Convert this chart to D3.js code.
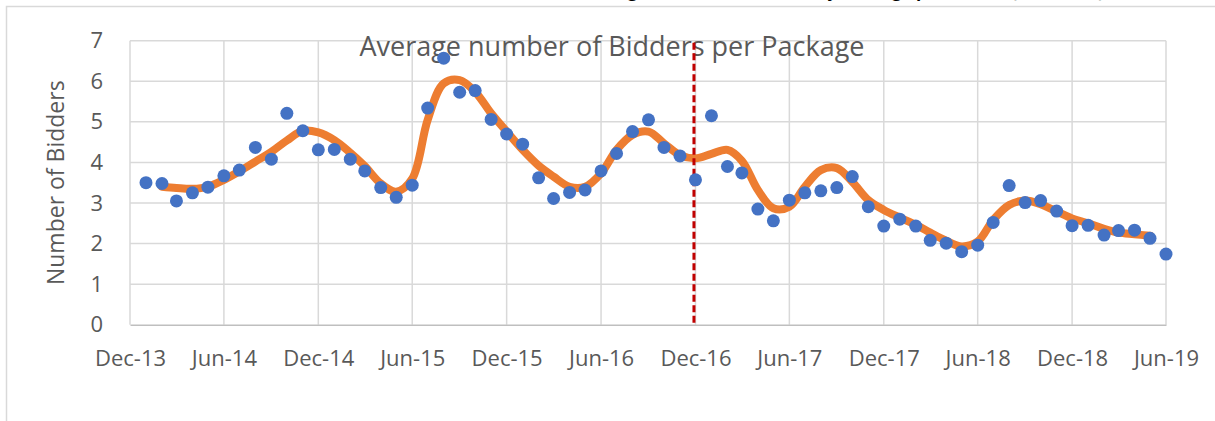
<!DOCTYPE html>
<html>
<head>
<meta charset="utf-8">
<script src="https://cdn.jsdelivr.net/npm/d3@7"></script>
<style>
  body { margin: 0; background: #fff; }
  svg { display: block; font-family: "Open Sans", sans-serif; }
</style>
</head>
<body>
<svg id="chart"></svg>
<script>
// monthly average bidders, Jan-14 .. Jun-19
const bidders = [
    3.50, 3.48, 3.05, 3.25, 3.39, 3.67, 3.81, 4.37, 4.08, 5.21, 4.78, 4.31,
    4.32, 4.08, 3.79, 3.38, 3.14, 3.44, 5.34, 6.57, 5.73, 5.77, 5.06, 4.70,
    4.45, 3.62, 3.11, 3.26, 3.32, 3.79, 4.22, 4.76, 5.05, 4.37, 4.16, 3.57,
    5.15, 3.90, 3.74, 2.85, 2.56, 3.07, 3.25, 3.30, 3.38, 3.65, 2.91, 2.43,
    2.60, 2.43, 2.08, 2.01, 1.80, 1.96, 2.52, 3.43, 3.01, 3.06, 2.80, 2.44,
    2.45, 2.21, 2.32, 2.33, 2.13, 1.74
];
// smoothed trend, Feb-14 .. May-19
const trend = [
    3.40, 3.37, 3.35, 3.40, 3.57, 3.78, 4.02, 4.26, 4.54, 4.78, 4.74,
    4.55, 4.24, 3.91, 3.48, 3.28, 3.60, 5.05, 5.95, 6.03, 5.74, 5.21, 4.76,
    4.31, 3.92, 3.65, 3.40, 3.40, 3.73, 4.31, 4.68, 4.76, 4.47, 4.18, 4.10,
    4.21, 4.31, 4.04, 3.32, 2.87, 2.91, 3.40, 3.81, 3.86, 3.52, 3.07, 2.83,
    2.64, 2.46, 2.27, 2.07, 1.93, 2.05, 2.58, 2.95, 3.06, 2.97, 2.79, 2.62,
    2.50, 2.36, 2.27, 2.23, 2.19
];
const xTickLabels = ["Dec-13", "Jun-14", "Dec-14", "Jun-15", "Dec-15", "Jun-16",
    "Dec-16", "Jun-17", "Dec-17", "Jun-18", "Dec-18", "Jun-19"];
const yTicks = [0, 1, 2, 3, 4, 5, 6, 7];
const markerLabel = "Dec-16";

const parseMonth = d3.timeParse("%b-%y");
const months = d3.timeMonth.range(parseMonth("Jan-14"), d3.timeMonth.offset(parseMonth("Jun-19"), 1));
const points = bidders.map((v, i) => ({date: months[i], value: v}));
const trendPts = trend.map((v, i) => ({date: months[i + 1], value: v}));

const width = 1215, height = 421;
const margin = {top: 40.7, right: 49, bottom: 96.3, left: 130};

const svg = d3.select("#chart")
    .attr("width", width)
    .attr("height", height)
    .attr("viewBox", [0, 0, width, height]);

const x = d3.scaleTime()
    .domain([parseMonth(xTickLabels[0]), parseMonth(xTickLabels[xTickLabels.length - 1])])
    .range([margin.left, width - margin.right]);

const y = d3.scaleLinear()
    .domain([0, 7])
    .range([height - margin.bottom, margin.top]);

// cut-off document caption above the chart frame (only descenders show)
svg.append("text")
    .attr("x", 880)
    .attr("y", -3)
    .attr("text-anchor", "middle")
    .attr("fill", "#000")
    .style("font-size", "17px")
    .style("font-weight", "bold")
    .text("Average Number of Bidders by Package per Month (Jan. 2014, Jun. 2019)");

// chart frame
svg.append("rect")
    .attr("x", 6.5)
    .attr("y", 6.5)
    .attr("width", width + 20)
    .attr("height", height + 20)
    .attr("fill", "none")
    .attr("stroke", "#d9d9d9")
    .attr("stroke-width", 1.5);

// gridlines
svg.append("g")
    .attr("stroke", "#d9d9d9")
    .attr("stroke-width", 1.5)
    .selectAll("line")
    .data(yTicks.slice(1))
    .join("line")
    .attr("x1", x.range()[0])
    .attr("x2", x.range()[1])
    .attr("y1", d => y(d))
    .attr("y2", d => y(d));

svg.append("g")
    .attr("stroke", "#d9d9d9")
    .attr("stroke-width", 1.5)
    .selectAll("line")
    .data(xTickLabels)
    .join("line")
    .attr("x1", d => x(parseMonth(d)))
    .attr("x2", d => x(parseMonth(d)))
    .attr("y1", y(7))
    .attr("y2", y(0));

// axes
const xAxis = g => g
    .attr("transform", `translate(0,${y(0)})`)
    .call(d3.axisBottom(x)
        .tickValues(xTickLabels.map(parseMonth))
        .tickFormat(d3.timeFormat("%b-%y"))
        .tickSize(0)
        .tickPadding(26))
    .call(g => g.select(".domain").attr("stroke", "#bfbfbf").attr("stroke-width", 1.5))
    .call(g => g.selectAll("text")
        .attr("fill", "#595959")
        .style("font-size", "22px")
        .style("font-family", "'Open Sans', sans-serif"));

const yAxis = g => g
    .attr("transform", `translate(${margin.left},0)`)
    .call(d3.axisLeft(y).tickValues(yTicks).tickFormat(d3.format("d")).tickSize(0).tickPadding(27))
    .call(g => g.select(".domain").remove())
    .call(g => g.selectAll("text")
        .attr("fill", "#595959")
        .style("font-size", "22px")
        .style("font-family", "'Open Sans', sans-serif"));

svg.append("g").call(xAxis);
svg.append("g").call(yAxis);

svg.append("text")
    .attr("transform", `translate(64,${(y(0) + y(7)) / 2}) rotate(-90)`)
    .attr("text-anchor", "middle")
    .attr("fill", "#595959")
    .style("font-size", "23px")
    .text("Number of Bidders");

// chart title inside the plot
svg.append("text")
    .attr("x", 612)
    .attr("y", 56)
    .attr("text-anchor", "middle")
    .attr("fill", "#595959")
    .style("font-size", "27px")
    .text("Average number of Bidders per Package");

// trend line
const line = d3.line()
    .x(d => x(d.date))
    .y(d => y(d.value))
    .curve(d3.curveCatmullRom);

svg.append("path")
    .datum(trendPts)
    .attr("fill", "none")
    .attr("stroke", "#ed7d31")
    .attr("stroke-width", 8)
    .attr("stroke-linecap", "round")
    .attr("d", line);

// Dec-16 marker
svg.append("line")
    .attr("x1", x(parseMonth(markerLabel)) - 1.5)
    .attr("x2", x(parseMonth(markerLabel)) - 1.5)
    .attr("y1", y(7) + 2)
    .attr("y2", y(0) + 1)
    .attr("stroke", "#c00000")
    .attr("stroke-width", 3)
    .attr("stroke-dasharray", "7,3.5");

// monthly points
svg.append("g")
    .attr("fill", "#4472c4")
    .selectAll("circle")
    .data(points)
    .join("circle")
    .attr("cx", d => x(d.date))
    .attr("cy", d => y(d.value))
    .attr("r", 6.5);
</script>
</body>
</html>
